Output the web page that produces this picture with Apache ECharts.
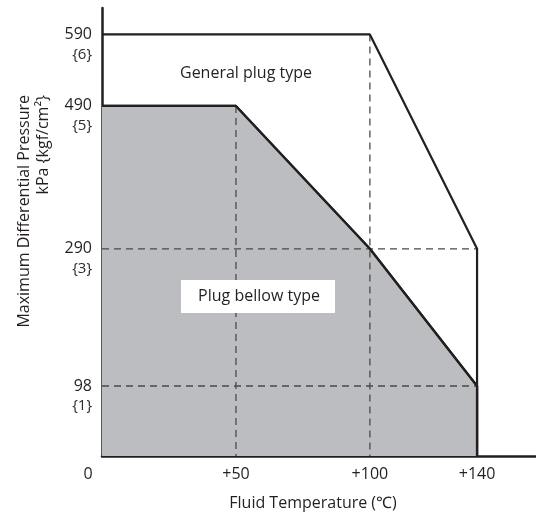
<!DOCTYPE html>
<html>
<head>
<meta charset="utf-8">
<script src="https://cdn.jsdelivr.net/npm/echarts@6/dist/echarts.min.js"></script>
<style>html,body{margin:0;padding:0;background:#fff}#c{width:536px;height:517px}</style>
</head>
<body>
<div id="c"></div>
<script>
// ---- data ----
const xTicks = [0, 50, 100, 140];
const xTickLabels = ['0', '+50', '+100', '+140'];
const yTicks = [98, 290, 490, 590];
const yTickLabels = ['98', '290', '490', '590'];
const ySubLabels = ['{1}', '{3}', '{5}', '{6}'];
const generalPlug = [[0, 590], [100, 590], [140, 290], [140, 0]];
const plugBellow = [[0, 490], [50, 490], [100, 290], [140, 98], [140, 0]];
const guideV50 = [[50, 490], [50, 0]];
const guideV100 = [[100, 590], [100, 0]];
const guideH290 = [[0, 290], [140, 290]];
const guideH98 = [[0, 98], [140, 98]];

const FONT = '"Open Sans", "Noto Sans", sans-serif';
const INK = '#231f20';
const chart = echarts.init(document.getElementById('c'), null, {renderer: 'canvas'});

function dashSeries(d) {
  return {
    type: 'line', data: d, symbol: 'none', silent: true, z: 3,
    lineStyle: {color: '#4a4a4a', width: 1.3, type: [7, 5]}
  };
}

chart.setOption({
  animation: false,
  backgroundColor: '#fff',
  textStyle: {fontFamily: FONT},
  grid: {left: 102, right: 0, top: 8, bottom: 61},
  xAxis: {
    type: 'value', min: 0, max: 162,
    axisLine: {show: true, lineStyle: {color: INK, width: 2.5}},
    axisTick: {show: false},
    splitLine: {show: false},
    axisLabel: {
      customValues: xTicks,
      margin: 10,
      fontSize: 16, color: INK, fontFamily: FONT,
      formatter: function (v) {
        const i = xTicks.indexOf(v);
        if (v === 0) return '{z|' + xTickLabels[i] + '}';
        return xTickLabels[i];
      },
      rich: {z: {fontSize: 16, color: INK, fontFamily: FONT, padding: [0, 28, 0, 0]}}
    }
  },
  yAxis: {
    type: 'value', min: 0, max: 627,
    axisLine: {show: true, lineStyle: {color: INK, width: 2.5}},
    axisTick: {show: false},
    splitLine: {show: false},
    axisLabel: {
      customValues: yTicks,
      margin: 10,
      fontSize: 15, color: '#2b2b2b', fontFamily: FONT, lineHeight: 20,
      formatter: function (v) {
        const i = yTicks.indexOf(v);
        return '{b| }\n{n|' + yTickLabels[i] + '}\n' + ySubLabels[i];
      },
      rich: {
        b: {fontSize: 15, lineHeight: 20, fontFamily: FONT},
        n: {fontSize: 16, lineHeight: 20, color: INK, fontFamily: FONT}
      }
    }
  },
  series: [
    {
      type: 'line', data: plugBellow, symbol: 'none', silent: true, z: 1,
      lineStyle: {color: INK, width: 2.2},
      areaStyle: {color: '#bcbdc0', opacity: 1}
    },
    dashSeries(guideV50),
    dashSeries(guideV100),
    dashSeries(guideH290),
    dashSeries(guideH98),
    {
      type: 'line', data: plugBellow, symbol: 'none', silent: true, z: 5,
      lineStyle: {color: INK, width: 2.2}
    },
    {
      type: 'line', data: generalPlug, symbol: 'none', silent: true, z: 5,
      lineStyle: {color: INK, width: 2.2}
    }
  ],
  graphic: [
    {type: 'text', x: 246, y: 73, z: 10, style: {text: 'General plug type', fontSize: 16, fontFamily: FONT, fill: INK, align: 'center', verticalAlign: 'middle'}},
    {type: 'rect', shape: {x: 181, y: 280, width: 154, height: 33}, z: 10, style: {fill: '#fff'}},
    {type: 'text', x: 259, y: 296, z: 11, style: {text: 'Plug bellow type', fontSize: 16, fontFamily: FONT, fill: INK, align: 'center', verticalAlign: 'middle'}},
    {type: 'text', x: 313, y: 503, z: 10, style: {text: 'Fluid Temperature (℃)', fontSize: 16, fontFamily: FONT, fill: INK, align: 'center', verticalAlign: 'middle'}},
    {type: 'text', x: 24, y: 95, rotation: Math.PI / 2, z: 10, style: {text: 'Maximum Differential Pressure', fontSize: 16, fontFamily: FONT, fill: INK, align: 'right', verticalAlign: 'middle'}},
    {type: 'text', x: 43, y: 95, rotation: Math.PI / 2, z: 10, style: {text: 'kPa {kgf/cm²}', fontSize: 16, fontFamily: FONT, fill: INK, align: 'right', verticalAlign: 'middle'}}
  ]
});
</script>
</body>
</html>
